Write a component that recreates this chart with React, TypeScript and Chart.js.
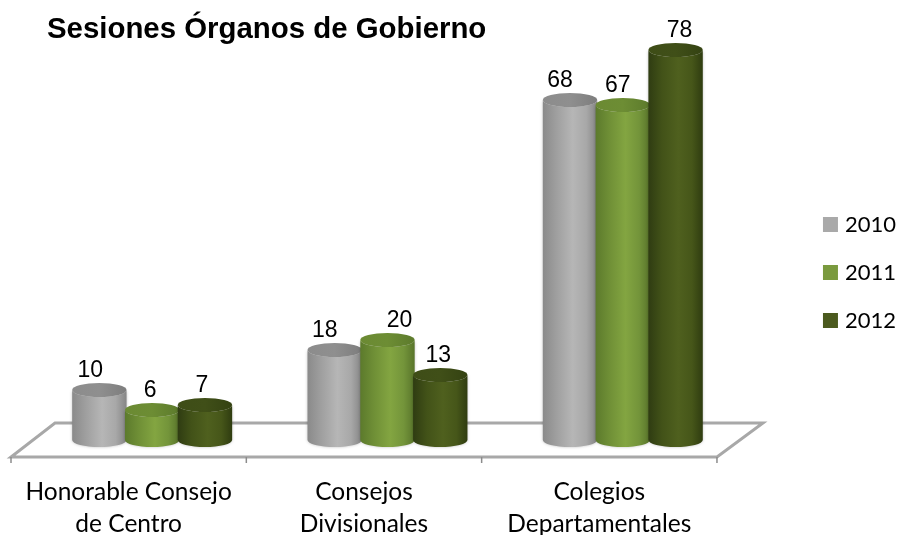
import React, { useEffect, useRef } from "react";
import { Chart, registerables } from "chart.js";

Chart.register(...registerables);

const categories = [["Honorable Consejo", "de Centro"], ["Consejos", "Divisionales"], ["Colegios", "Departamentales"]];
const seriesNames = ["2010", "2011", "2012"];
const values2010 = [10, 18, 68];
const values2011 = [6, 20, 67];
const values2012 = [7, 13, 78];
const titleText = "Sesiones Órganos de Gobierno";

const legendColors = ["#A9A9A9", "#7A9A3E", "#4B5A1E"];
const bodyStops = [
  ["#8a8a8a", "#9f9f9f", "#b6b6b6", "#a8a8a8", "#858585"],
  ["#5c7a2c", "#6f8f36", "#83a541", "#73943a", "#58742a"],
  ["#2f3c12", "#425218", "#4f601e", "#465619", "#2f3c10"],
];
const capStops = [
  ["#8c8c8c", "#8f8f8f", "#7d7d7d"],
  ["#6b8a33", "#6d8d34", "#5c7a2c"],
  ["#3e4d17", "#404f18", "#344212"],
];
const labelNudgeX = [[-9, -10, -10], [-2, 12, -5], [-3, -2, 4]];
const RY = 7;
const DEPTH = 23.5;

const cylinderPlugin = {
  id: "cylinders",
  afterLayout(chart: any) {
    if (chart.titleBlock) chart.titleBlock.left = 47;
  },
  beforeDatasetsDraw(chart: any) {
    const { ctx, chartArea, scales } = chart;
    const base = scales.y.getPixelForValue(0);
    const frontY = base + 17;
    const backY = base - 17;
    const fl = chartArea.left - DEPTH;
    const fr = chartArea.right - DEPTH;
    ctx.save();
    ctx.strokeStyle = "#a8a8a8";
    ctx.lineWidth = 3;
    ctx.beginPath();
    ctx.moveTo(fl, frontY);
    ctx.lineTo(fr, frontY);
    ctx.lineTo(chartArea.right + DEPTH - 1, backY);
    ctx.lineTo(chartArea.left + DEPTH - 3, backY);
    ctx.closePath();
    ctx.stroke();
    ctx.lineWidth = 1.5;
    ctx.strokeStyle = "#8c8c8c";
    const band = (chartArea.right - chartArea.left) / categories.length;
    for (let i = 0; i <= categories.length; i++) {
      const x = fl + i * band;
      ctx.beginPath();
      ctx.moveTo(x, frontY);
      ctx.lineTo(x, frontY + 6);
      ctx.stroke();
    }
    ctx.restore();
  },
  afterDatasetsDraw(chart: any) {
    const { ctx } = chart;
    chart.data.datasets.forEach((_: any, di: number) => {
      chart.getDatasetMeta(di).data.forEach((bar: any) => {
        const { x, y, base, width } = bar;
        const rx = width / 2;
        const body = ctx.createLinearGradient(x - rx, 0, x + rx, 0);
        [0, 0.25, 0.55, 0.8, 1].forEach((p, k) => body.addColorStop(p, bodyStops[di][k]));
        ctx.save();
        ctx.fillStyle = body;
        ctx.shadowColor = "rgba(0,0,0,0.25)";
        ctx.shadowBlur = 3;
        ctx.beginPath();
        ctx.moveTo(x - rx, y);
        ctx.lineTo(x - rx, base);
        ctx.ellipse(x, base, rx, RY, 0, Math.PI, 0, true);
        ctx.lineTo(x + rx, y);
        ctx.ellipse(x, y, rx, RY, 0, 0, Math.PI, false);
        ctx.closePath();
        ctx.fill();
        ctx.shadowColor = "transparent";
        const cap = ctx.createLinearGradient(x - rx, 0, x + rx, 0);
        [0, 0.5, 1].forEach((p, k) => cap.addColorStop(p, capStops[di][k]));
        ctx.fillStyle = cap;
        ctx.beginPath();
        ctx.ellipse(x, y, rx, RY, 0, 0, Math.PI * 2);
        ctx.fill();
        ctx.restore();
      });
    });
    ctx.save();
    ctx.font = '23px "Liberation Sans"';
    ctx.fillStyle = "#000";
    ctx.textAlign = "center";
    ctx.textBaseline = "middle";
    chart.data.datasets.forEach((ds: any, di: number) => {
      chart.getDatasetMeta(di).data.forEach((bar: any, i: number) => {
        ctx.fillText(String(ds.data[i]), bar.x + labelNudgeX[di][i], bar.y - 19);
      });
    });
    ctx.restore();
  },
};

export default function App() {
  const ref = useRef<HTMLCanvasElement>(null);
  useEffect(() => {
    const chart = new Chart(ref.current!, {
      type: "bar",
      plugins: [cylinderPlugin],
      data: {
        labels: categories as any,
        datasets: [values2010, values2011, values2012].map((data, i) => ({
          label: seriesNames[i],
          data,
          backgroundColor: "transparent",
          borderWidth: 0,
          categoryPercentage: 0.673,
          barPercentage: 1.03,
        })),
      },
      options: {
        responsive: false,
        animation: false,
        events: [],
        layout: { padding: { left: 34.5, top: 10, right: -5, bottom: 0 } },
        plugins: {
          tooltip: { enabled: false },
          title: {
            display: true,
            text: titleText,
            align: "start",
            color: "#000",
            font: { family: '"Liberation Sans"', size: 29.4, weight: "bold", lineHeight: "30px" },
            padding: { top: 5, bottom: 5 },
          },
          legend: {
            display: true,
            position: "right",
            labels: {
              padding: 26,
              boxWidth: 7,
              boxHeight: 7,
              color: "#000",
              font: { family: "Lato", size: 22 },
              generateLabels: () =>
                seriesNames.map((text, i) => ({
                  text,
                  fillStyle: legendColors[i],
                  strokeStyle: legendColors[i],
                  lineWidth: 8,
                  datasetIndex: i,
                })),
            },
          },
        },
        scales: {
          x: {
            grid: { display: false },
            border: { display: false },
            ticks: {
              color: "#000",
              font: { family: "Lato", size: 24.5, lineHeight: 1.3 },
              maxRotation: 0,
              autoSkip: false,
              labelOffset: -DEPTH,
              padding: 28,
            },
            afterFit: (s: any) => { s.height = 95; },
          },
          y: { display: false, min: 0, max: 78 },
          y2: {
            position: "right",
            min: 0,
            max: 78,
            grid: { display: false },
            border: { display: false },
            ticks: { display: false },
            afterFit: (s: any) => { s.width = 60.5; },
          },
        },
      } as any,
    });
    return () => chart.destroy();
  }, []);
  return (
    <div style={{ position: "absolute", left: 0, top: 0, width: 901, height: 535 }}>
      <canvas ref={ref} width={901} height={535} style={{ display: "block" }} />
    </div>
  );
}
